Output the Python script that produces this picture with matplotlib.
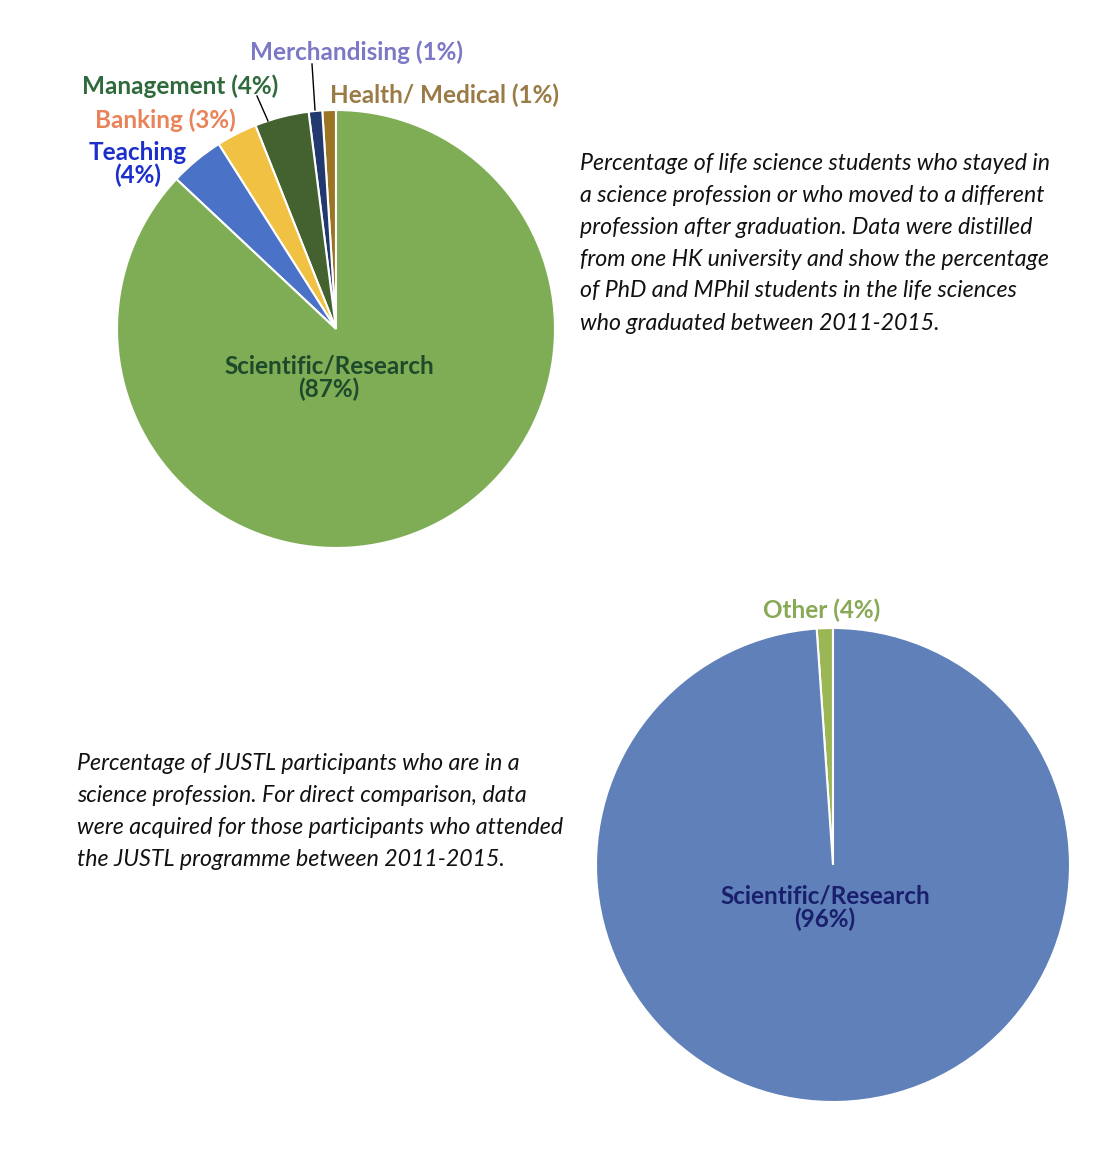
import matplotlib
matplotlib.use("Agg")
import matplotlib.pyplot as plt

# top pie: life science graduates (counterclockwise from 12 o'clock)
hk_labels = ["Health/ Medical", "Merchandising", "Management", "Banking", "Teaching", "Scientific/Research"]
hk_values = [1, 1, 4, 3, 4, 87]
hk_colors = ["#9B7424", "#22396F", "#44622F", "#F1C143", "#4A72C6", "#7EAD55"]
hk_text_colors = ["#9A7A45", "#7B78C6", "#2E6A3B", "#E8835A", "#1C2FCB", "#1D4A2B"]

# bottom pie: JUSTL participants (slice sizes as drawn; labels as printed)
justl_labels = ["Other", "Scientific/Research"]
justl_values = [1.1, 98.9]
justl_printed = [4, 96]
justl_colors = ["#9BB654", "#5F80B8"]
justl_text_colors = ["#88A955", "#1A1F6D"]

caption_top = [
    "Percentage of life science students who stayed in",
    "a science profession or who moved to a different",
    "profession after graduation. Data were distilled",
    "from one HK university and show the percentage",
    "of PhD and MPhil students in the life sciences",
    "who graduated between 2011-2015.",
]
caption_bottom = [
    "Percentage of JUSTL participants who are in a",
    "science profession. For direct comparison, data",
    "were acquired for those participants who attended",
    "the JUSTL programme between 2011-2015.",
]

W, H = 1120, 1171
fig = plt.figure(figsize=(W / 100, H / 100), dpi=100)
ax = fig.add_axes([0, 0, 1, 1])

def y(py):
    # image pixel row -> axes coordinate
    return H - py

font = "Lato"
wp = dict(edgecolor="white", linewidth=1.5)

ax.pie(hk_values, colors=hk_colors, startangle=90, counterclock=True,
       center=(336, y(329)), radius=219, wedgeprops=wp, frame=True)
ax.pie(justl_values, colors=justl_colors, startangle=90, counterclock=True,
       center=(833, y(865)), radius=237, wedgeprops=wp, frame=True)
ax.set_xlim(0, W)
ax.set_ylim(0, H)
ax.set_aspect("equal")
ax.axis("off")

lab = dict(fontsize=17.5, fontweight="bold", family=font, ha="center", va="center")

def pct(name, v):
    return f"{name} ({v}%)"

# top pie labels
ax.text(445, y(95), pct(hk_labels[0], hk_values[0]), color=hk_text_colors[0], **lab)
ax.text(357, y(52), pct(hk_labels[1], hk_values[1]), color=hk_text_colors[1], **lab)
ax.text(180, y(86), pct(hk_labels[2], hk_values[2]), color=hk_text_colors[2], **lab)
ax.text(165, y(120), pct(hk_labels[3], hk_values[3]), color=hk_text_colors[3], **lab)
ax.text(138, y(164), f"{hk_labels[4]}\n({hk_values[4]}%)", color=hk_text_colors[4],
        linespacing=1.0, **lab)
ax.text(329, y(378), f"{hk_labels[5]}\n({hk_values[5]}%)", color=hk_text_colors[5],
        linespacing=1.0, **lab)

# leader lines
ax.plot([257, 268], [y(96), y(121)], color="black", lw=1)
ax.plot([312, 315], [y(64), y(110)], color="black", lw=1)

# bottom pie labels
ax.text(822, y(610), pct(justl_labels[0], justl_printed[0]), color=justl_text_colors[0], **lab)
ax.text(825, y(908), f"{justl_labels[1]}\n({justl_printed[1]}%)", color=justl_text_colors[1],
        linespacing=1.0, **lab)

cap = dict(fontsize=16.7, style="italic", family=font, ha="left", va="center", color="#111111")
for i, line in enumerate(caption_top):
    ax.text(580, y(163 + 32 * i), line, **cap)
for i, line in enumerate(caption_bottom):
    ax.text(77, y(764 + 32 * i), line, **cap)

fig.savefig("out.png", dpi=100, facecolor="white")
